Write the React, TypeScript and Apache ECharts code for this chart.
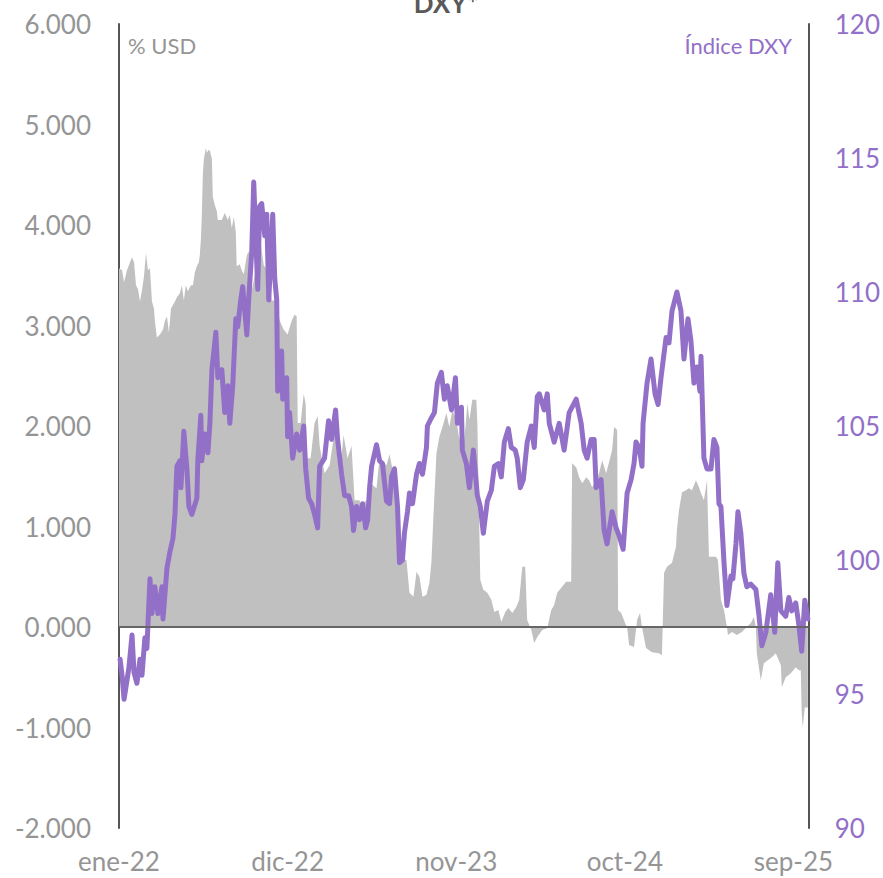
import React, { useEffect, useRef } from 'react';
import * as echarts from 'echarts';

// X axis: months elapsed since the start of January 2022
const etiquetasX = ['ene-22', 'dic-22', 'nov-23', 'oct-24', 'sep-25'];

// DXY index (right axis)
const dxyMeses = [
  0.07, 0.2, 0.33, 0.52, 0.65, 0.85, 0.98, 1.17, 1.37, 1.5, 1.69, 1.82, 2.02, 2.15, 2.34, 2.54, 2.8, 2.87,
  3.13, 3.32, 3.52, 3.65, 3.78, 3.97, 4.04, 4.23, 4.43, 4.56, 4.75, 5.08, 5.14, 5.34, 5.4, 5.6, 5.8, 5.93,
  6.06, 6.32, 6.45, 6.71, 6.9, 7.1, 7.23, 7.42, 7.62, 7.75, 7.94, 8.07, 8.34, 8.47, 8.66, 8.79, 9.05, 9.18,
  9.31, 9.51, 9.64, 9.77, 10.03, 10.16, 10.29, 10.35, 10.61, 10.68, 10.94, 11.0, 11.13, 11.33, 11.59, 11.79,
  12.05, 12.18, 12.37, 12.57, 12.76, 12.96, 13.09, 13.41, 13.67, 13.87, 14.13, 14.26, 14.52, 14.72, 14.98,
  15.17, 15.3, 15.5, 15.69, 15.89, 16.09, 16.22, 16.35, 16.48, 16.8, 17.0, 17.19, 17.45, 17.65, 17.78, 17.97,
  18.17, 18.3, 18.49, 18.62, 18.82, 18.95, 19.15, 19.41, 19.6, 19.8, 20.06, 20.12, 20.38, 20.58, 20.77, 21.03,
  21.23, 21.42, 21.69, 21.95, 22.08, 22.34, 22.4, 22.66, 22.86, 23.12, 23.38, 23.57, 23.77, 24.03, 24.29,
  24.49, 24.75, 24.94, 25.14, 25.4, 25.59, 25.85, 25.98, 26.18, 26.38, 26.63, 26.9, 27.09, 27.29, 27.42,
  27.74, 27.94, 28.07, 28.39, 28.72, 29.04, 29.37, 29.83, 30.15, 30.35, 30.54, 30.8, 31.0, 31.13, 31.45,
  31.65, 31.84, 32.17, 32.43, 32.63, 32.89, 33.15, 33.41, 33.6, 33.73, 33.93, 34.12, 34.19, 34.45, 34.71,
  34.97, 35.17, 35.36, 35.69, 35.88, 36.08, 36.4, 36.66, 36.86, 37.12, 37.31, 37.51, 37.71, 37.9, 37.97,
  38.16, 38.36, 38.62, 38.81, 39.01, 39.14, 39.27, 39.47, 39.66, 39.92, 40.05, 40.25, 40.38, 40.57, 40.77,
  40.96, 41.22, 41.55, 41.74, 41.94, 42.2, 42.52, 42.78, 42.98, 43.18, 43.5, 43.7, 43.89, 44.15, 44.35,
  44.54, 44.74, 44.94,
];
const dxyIndice = [
  96.3, 95.7, 94.8, 95.5, 96.0, 97.2, 95.8, 95.4, 96.3, 95.7, 97.1, 96.7, 99.3, 98.0, 99.0, 98.0, 99.0, 97.8,
  99.7, 100.3, 100.8, 101.7, 103.5, 103.7, 102.7, 104.8, 103.4, 102.0, 101.7, 102.3, 103.7, 105.4, 103.7, 104.7, 104.0, 105.1,
  107.1, 108.5, 106.8, 107.1, 105.5, 106.5, 105.1, 106.5, 109.0, 108.7, 109.7, 110.2, 108.4, 109.8, 111.5, 114.1, 110.1, 113.2,
  113.3, 112.1, 112.9, 109.7, 112.9, 110.5, 109.7, 106.3, 107.8, 106.0, 106.8, 104.6, 105.5, 103.8, 104.7, 104.1,
  105.0, 103.4, 102.3, 102.1, 101.7, 101.2, 103.5, 103.8, 105.2, 104.5, 105.6, 104.5, 103.2, 102.4, 102.4,
  102.0, 101.1, 102.0, 101.5, 102.1, 101.2, 101.5, 102.7, 103.5, 104.3, 103.7, 103.6, 102.2, 102.1, 103.1, 103.4,
  102.0, 99.9, 100.0, 101.0, 101.8, 102.5, 102.1, 103.2, 103.6, 103.2, 104.2, 105.0, 105.3, 105.5, 106.6, 107.0,
  106.0, 106.5, 105.6, 106.8, 105.1, 105.7, 104.1, 103.6, 102.7, 104.1, 102.4, 102.0, 101.0, 102.2, 102.6,
  103.5, 103.6, 103.1, 104.4, 104.9, 104.2, 104.1, 103.8, 102.7, 103.0, 104.4, 105.0, 104.2, 106.1, 106.2,
  105.6, 106.2, 105.1, 104.4, 105.1, 104.1, 105.5, 106.0, 105.1, 104.1, 103.8, 104.5, 104.5, 102.7, 103.0,
  101.1, 100.6, 101.8, 101.2, 100.9, 100.4, 102.5, 103.0, 103.6, 104.4, 104.2, 103.5, 105.1, 106.6, 107.5,
  106.2, 105.8, 106.8, 108.3, 108.1, 109.3, 110.0, 109.3, 107.5, 109.0, 108.2, 106.6, 107.2, 106.3, 107.6,
  103.8, 103.4, 103.4, 104.5, 104.2, 102.1, 102.0, 99.9, 98.3, 99.4, 99.3, 100.6, 101.8, 101.0, 99.5,
  99.0, 99.1, 98.9, 98.0, 96.8, 97.3, 98.7, 97.3, 99.9, 98.1, 97.9, 98.6, 98.1, 98.4, 97.6,
  96.6, 98.5, 97.8,
];

// % USD position (left axis, gray area)
const posMeses = [
  0.0, 0.2, 0.33, 0.52, 0.72, 0.85, 0.98, 1.11, 1.24, 1.37, 1.5, 1.63, 1.76, 1.89, 2.02, 2.15, 2.28, 2.34,
  2.47, 2.67, 2.87, 3.0, 3.13, 3.26, 3.39, 3.65, 3.78, 3.97, 4.1, 4.23, 4.36, 4.49, 4.69, 4.82, 4.95, 5.08,
  5.21, 5.27, 5.34, 5.4, 5.47, 5.54, 5.67, 5.73, 5.86, 5.93, 6.06, 6.12, 6.25, 6.38, 6.45, 6.71, 6.9, 7.1,
  7.23, 7.36, 7.49, 7.62, 7.68, 7.88, 8.01, 8.14, 8.34, 8.47, 8.66, 8.92, 9.18, 9.44, 9.7, 9.96, 10.22,
  10.48, 10.74, 11.0, 11.27, 11.46, 11.59, 11.66, 11.85, 12.05, 12.18, 12.24, 12.5, 12.76, 12.96, 13.09,
  13.41, 13.74, 14.07, 14.39, 14.65, 14.91, 15.17, 15.37, 15.69, 15.82, 16.09, 16.35, 16.48, 16.8, 17.0,
  17.19, 17.45, 17.65, 17.84, 18.04, 18.17, 18.43, 18.75, 18.95, 19.21, 19.41, 19.6, 19.8, 20.06, 20.25,
  20.38, 20.51, 20.71, 20.9, 21.1, 21.36, 21.55, 21.75, 22.01, 22.21, 22.4, 22.53, 22.73, 22.86, 23.05,
  23.31, 23.38, 23.57, 23.77, 24.03, 24.29, 24.49, 24.75, 24.94, 25.2, 25.4, 25.66, 25.92, 26.11, 26.31,
  26.5, 26.63, 26.9, 27.09, 27.29, 27.61, 27.94, 28.2, 28.39, 28.59, 28.85, 29.17, 29.5, 29.56, 29.83,
  30.02, 30.22, 30.48, 30.67, 30.87, 31.13, 31.32, 31.52, 31.78, 31.97, 32.17, 32.3, 32.5, 32.56, 32.76,
  33.02, 33.15, 33.28, 33.6, 33.8, 33.99, 34.12, 34.38, 34.77, 35.23, 35.42, 35.56, 35.75, 36.08, 36.34,
  36.4, 36.53, 36.73, 36.99, 37.18, 37.38, 37.64, 37.84, 37.97, 38.16, 38.36, 38.49, 38.75, 38.94, 39.07,
  39.27, 39.47, 39.66, 39.73, 39.99, 40.31, 40.64, 40.96, 41.22, 41.42, 41.55, 41.61, 41.87, 42.07, 42.33,
  42.59, 42.85, 43.18, 43.24, 43.5, 43.83, 44.15, 44.35, 44.48, 44.54, 44.61, 44.74, 44.94,
];
const posValores = [
  3.57, 3.55, 3.43, 3.55, 3.63, 3.68, 3.63, 3.4, 3.36, 3.24, 3.35, 3.49, 3.72, 3.55, 3.57, 3.24, 3.17, 3.05,
  2.88, 2.91, 2.96, 3.05, 3.09, 2.93, 3.17, 3.24, 3.28, 3.32, 3.4, 3.25, 3.4, 3.34, 3.4, 3.4, 3.53, 3.59,
  3.63, 3.7, 3.85, 4.08, 4.51, 4.66, 4.77, 4.72, 4.75, 4.74, 4.66, 4.28, 4.2, 4.14, 4.05, 4.05, 4.12, 4.05,
  4.1, 3.97, 4.08, 3.93, 3.59, 3.61, 3.55, 3.51, 3.7, 3.74, 3.35, 3.55, 3.9, 3.6, 3.55, 3.25, 3.25,
  3.05, 2.96, 2.91, 3.05, 3.11, 3.09, 2.03, 2.03, 2.32, 2.22, 1.68, 1.68, 2.03, 2.1, 1.8,
  1.53, 1.61, 1.95, 1.49, 1.91, 1.68, 1.8, 1.26, 1.26, 1.19, 1.26, 1.07, 1.42, 1.38, 1.68,
  1.65, 1.61, 1.72, 1.57, 1.61, 1.26, 0.67, 0.67, 0.34, 0.3, 0.55, 0.5, 0.3, 0.32, 0.44,
  0.64, 1.09, 1.73, 1.89, 1.99, 2.13, 1.99, 2.16, 2.06, 1.86, 2.03, 1.86, 2.23, 2.06, 2.26,
  2.26, 2.03, 0.47, 0.37, 0.34, 0.27, 0.15, 0.17, 0.05, 0.15, 0.19, 0.14, 0.2, 0.27, 0.6,
  0.6, 0.07, -0.03, -0.16, -0.1, -0.03, -0.01, 0.17, 0.22, 0.34, 0.39, 0.45, 0.45, 1.63, 1.59,
  1.49, 1.43, 1.49, 1.46, 1.39, 1.46, 1.53, 1.66, 1.53, 1.64, 1.76, 1.99, 1.96, 0.17, 0.14,
  0.04, 0.0, -0.18, -0.2, 0.07, 0.14, 0.0, -0.21, -0.25, -0.26, -0.28, 0.54, 0.6, 0.64, 0.8,
  0.97, 1.16, 1.34, 1.36, 1.38, 1.36, 1.46, 1.39, 1.33, 1.26, 1.46, 0.7, 0.7, 0.7, 0.67,
  0.27, 0.17, 0.0, -0.08, -0.05, -0.08, -0.05, 0.0, 0.04, 0.1, 0.0, -0.26, -0.53, -0.36, -0.33,
  -0.3, -0.26, -0.38, -0.6, -0.5, -0.46, -0.4, -0.43, -0.43, -0.86, -1.0, -0.8, -0.8,
];

const MORADO = '#9370C8';
const GRIS_TXT = '#959595';
const FUENTE = 'Lato, "Noto Sans", sans-serif';

export default function App() {
  const ref = useRef<HTMLDivElement>(null);

  useEffect(() => {
    if (!ref.current) return;
    const chart = echarts.init(ref.current, undefined, { renderer: 'svg' });
    const lineaData = dxyMeses.map((m, i) => [m, dxyIndice[i]]);
    const areaData = posMeses.map((m, i) => [m, posValores[i]]);

    chart.setOption({
      animation: false,
      textStyle: { fontFamily: FUENTE },
      grid: { left: 119, right: 73, top: 24, bottom: 50 },
      graphic: [
        {
          type: 'text',
          x: 446,
          y: 3,
          style: {
            text: 'DXY*',
            fill: '#595959',
            font: `bold 26px ${FUENTE}`,
            align: 'center',
            verticalAlign: 'middle',
          },
        },
        {
          type: 'text',
          left: 128,
          top: 34,
          style: { text: '% USD', fill: GRIS_TXT, font: `22px ${FUENTE}` },
        },
        {
          type: 'text',
          right: 91,
          top: 34,
          style: { text: 'Índice DXY', fill: MORADO, font: `22px ${FUENTE}` },
        },
      ],
      xAxis: {
        type: 'value',
        min: 0,
        max: 45,
        interval: 11,
        axisLine: { show: false, onZero: false },
        axisTick: { show: false },
        splitLine: { show: false },
        axisLabel: {
          color: GRIS_TXT,
          fontSize: 26,
          fontFamily: FUENTE,
          margin: 20,
          formatter: (v: number) => (v % 11 === 0 ? etiquetasX[v / 11] ?? '' : ''),
        },
      },
      yAxis: [
        {
          type: 'value',
          min: -2,
          max: 6,
          interval: 1,
          position: 'left',
          axisLine: { show: true, lineStyle: { color: '#555555', width: 2 } },
          axisTick: { show: false },
          splitLine: { show: false },
          axisLabel: {
            color: GRIS_TXT,
            fontSize: 26,
            fontFamily: FUENTE,
            margin: 28,
            formatter: (v: number) => v.toFixed(3),
          },
        },
        {
          type: 'value',
          min: 90,
          max: 120,
          interval: 5,
          position: 'right',
          axisLine: { show: true, lineStyle: { color: '#555555', width: 2 } },
          axisTick: { show: false },
          splitLine: { show: false },
          axisLabel: { color: MORADO, fontSize: 26, fontFamily: FUENTE, margin: 26 },
        },
      ],
      series: [
        {
          name: '% USD',
          type: 'line',
          yAxisIndex: 0,
          data: areaData,
          showSymbol: false,
          symbol: 'none',
          lineStyle: { width: 0, opacity: 0 },
          areaStyle: { color: '#C0C0C0', opacity: 1 },
          z: 1,
          markLine: {
            silent: true,
            symbol: 'none',
            label: { show: false },
            lineStyle: { color: '#666666', width: 2, type: 'solid' },
            data: [{ yAxis: 0 }],
          },
        },
        {
          name: 'Índice DXY',
          type: 'line',
          yAxisIndex: 1,
          data: lineaData,
          showSymbol: false,
          symbol: 'none',
          lineStyle: { color: MORADO, width: 5, join: 'round', cap: 'round' },
          itemStyle: { color: MORADO },
          z: 3,
        },
      ],
    });

    return () => chart.dispose();
  }, []);

  return (
    <div
      ref={ref}
      style={{ position: 'absolute', left: 0, top: 0, width: 883, height: 878 }}
    />
  );
}
